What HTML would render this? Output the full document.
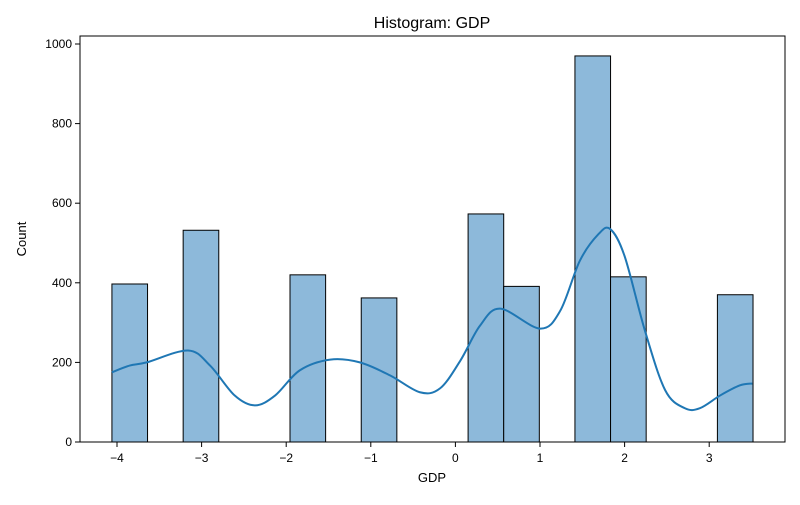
<!DOCTYPE html>
<html><head><meta charset="utf-8"><style>
body{margin:0;background:#fff;font-family:"Liberation Sans","DejaVu Sans",sans-serif;}
svg text{font-family:"Liberation Sans","DejaVu Sans",sans-serif;}
</style></head><body>
<svg id="chart" width="800" height="500" viewBox="0 0 800 500">
<rect width="800" height="500" fill="#fff"/>
<text x="432" y="28" text-anchor="middle" font-size="16">Histogram: GDP</text>
<g id="bars"></g>
<path id="kde" fill="none" stroke="#1f77b4" stroke-width="2"/>
<rect x="80" y="36" width="705" height="406" fill="none" stroke="#000" stroke-width="1"/>
<g id="xticks"></g><g id="yticks"></g>
<text x="432" y="482" text-anchor="middle" font-size="13">GDP</text>
<text x="26" y="239" text-anchor="middle" font-size="13" transform="rotate(-90 26 239)">Count</text>
</svg>
<script>
const binStart = -4.06;
const binWidth = 0.421;
const counts = [397,0,532,0,0,420,0,362,0,0,573,391,0,970,415,0,0,370];
const kdeX = [-4.06,-3.85,-3.65,-3.16,-2.90,-2.61,-2.37,-2.13,-1.84,-1.48,-1.13,-0.77,-0.42,-0.18,0.06,0.29,0.53,1.0,1.24,1.47,1.69,1.83,2.0,2.24,2.48,2.71,2.89,3.13,3.36,3.51];
const kdeY = [175,192,200,230,192,117,92,117,180,207,200,167,125,135,205,292,335,285,330,455,522,535,467,280,130,85,85,117,142,147];
const xTicks = [-4,-3,-2,-1,0,1,2,3];
const xTickLabels = ["\u22124","\u22123","\u22122","\u22121","0","1","2","3"];
const yTicks = [0,200,400,600,800,1000];

const NS="http://www.w3.org/2000/svg";
const X = v => 117 + (v + 4) * 84.6;
const Y = v => 442 - v * 0.398;
function mk(tag, attrs, parent){const e=document.createElementNS(NS,tag);for(const k in attrs)e.setAttribute(k,attrs[k]);parent.appendChild(e);return e;}

const bars=document.getElementById('bars');
counts.forEach((c,i)=>{
  if(c<=0) return;
  const x0=X(binStart+i*binWidth), x1=X(binStart+(i+1)*binWidth);
  const r=mk('rect',{x:x0,y:Y(c),width:x1-x0,height:Y(0)-Y(c),fill:'#8db9da',stroke:'#000','stroke-width':1},bars);
  
  
});

const pts=kdeX.map((x,i)=>[X(x),Y(kdeY[i])]);
let d='M'+pts[0][0]+','+pts[0][1];
for(let i=0;i<pts.length-1;i++){
  const p0=pts[Math.max(0,i-1)],p1=pts[i],p2=pts[i+1],p3=pts[Math.min(pts.length-1,i+2)];
  const c1=[p1[0]+(p2[0]-p0[0])/6,p1[1]+(p2[1]-p0[1])/6];
  const c2=[p2[0]-(p3[0]-p1[0])/6,p2[1]-(p3[1]-p1[1])/6];
  d+=` C${c1[0]},${c1[1]} ${c2[0]},${c2[1]} ${p2[0]},${p2[1]}`;
}
document.getElementById('kde').setAttribute('d',d);

const xt=document.getElementById('xticks');
xTicks.forEach((t,i)=>{
  mk('line',{x1:X(t),x2:X(t),y1:442,y2:447,stroke:'#000'},xt);
  const tx=mk('text',{x:X(t),y:462,'text-anchor':'middle','font-size':12},xt);
  tx.textContent=xTickLabels[i];
  
  
});
const yt=document.getElementById('yticks');
yTicks.forEach(t=>{
  mk('line',{x1:75,x2:80,y1:Y(t),y2:Y(t),stroke:'#000'},yt);
  const tx=mk('text',{x:72,y:Y(t)+4,'text-anchor':'end','font-size':12},yt);
  tx.textContent=t;
  
  
});
</script>
</body></html>
